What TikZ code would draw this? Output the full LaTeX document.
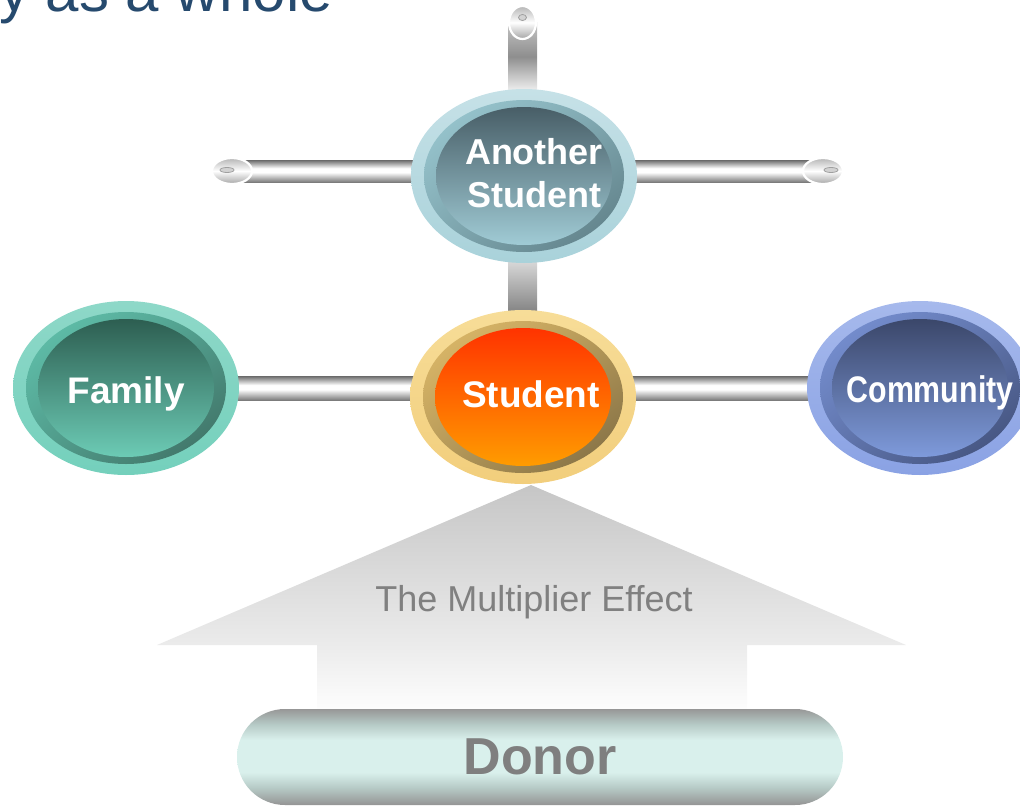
\documentclass[tikz,border=0pt]{standalone}
\usepackage{fontspec}
\setmainfont{Liberation Sans}
\usetikzlibrary{shapes.geometric,shapes.misc,shadings}
\pgfdeclarelayer{background}
\pgfsetlayers{background,main}

\definecolor{titleblue}{HTML}{264A6E}
\definecolor{labelgray}{HTML}{808080}
\definecolor{donorgray}{HTML}{7F7F7F}
% balls
\definecolor{famO}{HTML}{8ED8C8}\definecolor{famOb}{HTML}{74D0BC}
\definecolor{famRA}{HTML}{62C6B0}\definecolor{famRB}{HTML}{3D6B60}
\definecolor{famIT}{HTML}{2D5E51}\definecolor{famIB}{HTML}{6CCBB5}
\definecolor{anoO}{HTML}{C6E1E7}\definecolor{anoOb}{HTML}{A9D2DA}
\definecolor{anoRA}{HTML}{9DCCD5}\definecolor{anoRB}{HTML}{5B7A82}
\definecolor{anoIT}{HTML}{485E67}\definecolor{anoIB}{HTML}{A0CBD5}
\definecolor{stuO}{HTML}{F7DD98}\definecolor{stuOb}{HTML}{F2CE7C}
\definecolor{stuRA}{HTML}{E3BE6B}\definecolor{stuRB}{HTML}{7C6A42}
\definecolor{stuIT}{HTML}{FF3300}\definecolor{stuIB}{HTML}{FF9C00}
\definecolor{comO}{HTML}{A6B9EC}\definecolor{comOb}{HTML}{8AA2E4}
\definecolor{comRA}{HTML}{7B95D9}\definecolor{comRB}{HTML}{3E4C74}
\definecolor{comIT}{HTML}{3B476A}\definecolor{comIB}{HTML}{7E9ADB}
% metal bars
\definecolor{barTop}{HTML}{6A6A6A}\definecolor{barBot}{HTML}{7C7C7C}
\definecolor{vA1}{HTML}{C4C4C4}\definecolor{vA2}{HTML}{8E8E8E}\definecolor{vA3}{HTML}{F0F0F0}
\definecolor{vB1}{HTML}{E2E2E2}\definecolor{vB2}{HTML}{7A7A7A}
% arrow and donor
\definecolor{arT}{HTML}{C6C6C6}\definecolor{arM}{HTML}{EBEBEB}\definecolor{arB}{HTML}{FEFEFE}
\definecolor{dG1}{HTML}{979797}\definecolor{dG2}{HTML}{949494}
\definecolor{dMid}{HTML}{B6CAC6}\definecolor{dCyan}{HTML}{D9F0EC}
\definecolor{capG1}{HTML}{B5B5B5}\definecolor{capG2}{HTML}{A5A5A5}

\pgfdeclareverticalshading{hbarshade}{100bp}{color(0bp)=(barBot); color(25bp)=(barBot); color(47bp)=(white); color(56bp)=(white); color(75bp)=(barTop); color(100bp)=(barTop)}
\pgfdeclareverticalshading{vbarAshade}{100bp}{color(0bp)=(vA3); color(25bp)=(vA3); color(50bp)=(vA2); color(75bp)=(vA1); color(100bp)=(vA1)}
\pgfdeclareverticalshading{vbarBshade}{100bp}{color(0bp)=(vB2); color(25bp)=(vB2); color(75bp)=(vB1); color(100bp)=(vB1)}
\pgfdeclareverticalshading{arrowshade}{100bp}{color(0bp)=(arB); color(25bp)=(arB); color(40bp)=(arM); color(75bp)=(arT); color(100bp)=(arT)}
\pgfdeclareverticalshading{donorshade}{100bp}{color(0bp)=(dG2); color(25bp)=(dG2); color(34bp)=(dMid); color(42bp)=(dCyan); color(59bp)=(dCyan); color(67bp)=(dMid); color(75bp)=(dG1); color(100bp)=(dG1)}
\pgfdeclareverticalshading{capshade}{100bp}{color(0bp)=(capG2); color(25bp)=(capG2); color(50bp)=(white); color(75bp)=(capG1); color(100bp)=(capG1)}

\tikzset{
  ballouter/.style={ellipse, inner sep=0pt, minimum width=226pt, minimum height=174pt},
  balltext/.style={text=white, font=\fontsize{37}{43}\selectfont\bfseries, anchor=base, inner sep=0pt},
  capnode/.style={ellipse, inner sep=0pt, draw=white, line width=2.2pt, shading=capshade},
  capdash/.style={fill=gray!35, draw=gray!75, line width=0.8pt},
}

\newcommand\mkball[4]{%
  \node[ballouter, top color=#4O, bottom color=#4Ob] (#1) at (#2,#3) {};
  \shade[upper left=#4RA, upper right=#4RA!55!#4RB, lower left=#4RA!55!#4RB, lower right=#4RB]
    (#1.center) ellipse [x radius=100pt, y radius=76pt];
  \shade[top color=#4IT, bottom color=#4IB] (#1.center) ellipse [x radius=88pt, y radius=69pt];
}

\begin{document}
\begin{tikzpicture}[x=1pt,y=-1pt]
\useasboundingbox (0,0) rectangle (1020,806);

% title fragment
\node[anchor=base east, inner sep=0pt, text=titleblue, font=\fontsize{60}{70}\selectfont] (title) at (333,11.5) {y as a whole};

% balls
\mkball{ano}{524}{176}{ano}
\mkball{fam}{126}{388}{fam}
\mkball{stu}{523}{397}{stu}
\mkball{com}{920}{388}{com}

\node[balltext, align=center, font=\fontsize{36}{43}\selectfont\bfseries, anchor=center] (anolbl) at (534,173) {Another\\Student};
\node[balltext] (famlbl) at (126,403) {Family};
\node[balltext] (stulbl) at (531,407) {Student};
\node[balltext] (comlbl) at (930,402) {\scalebox{0.82}[1]{Community}};

% bar end caps
\node[capnode, minimum width=27pt, minimum height=33pt] (tcap) at (522.5,22.5) {};
\node[capnode, minimum width=40pt, minimum height=26pt] (lcap) at (232,171) {};
\node[capnode, minimum width=40pt, minimum height=26pt] (rcap) at (823,171) {};
\path[capdash] ([yshift=5pt]tcap.center) ellipse [x radius=4pt, y radius=3pt];
\path[capdash] ([xshift=-5pt,yshift=1pt]lcap.center) ellipse [x radius=7pt, y radius=2.5pt];
\path[capdash] ([xshift=8pt,yshift=1pt]rcap.center) ellipse [x radius=7pt, y radius=2.5pt];

% multiplier arrow text and donor
\node[text=labelgray, font=\fontsize{36}{40}\selectfont, anchor=base, inner sep=0pt] (mult) at (534,611) {The Multiplier Effect};
\node[rounded rectangle, inner sep=0pt, minimum width=606pt, minimum height=96pt, shading=donorshade,
      text=donorgray, font=\fontsize{52}{60}\selectfont\bfseries] (donor) at (540,757) {Donor};

\begin{pgfonlayer}{background}
  % big arrow
  \shade[shading=arrowshade] (531,485) -- (906,645) -- (747,645) -- (747,712) -- (317,712) -- (317,645) -- (157,645) -- cycle;
  % connectors (metal bars)
  \shade[shading=hbarshade] ([yshift=11pt]lcap.center) rectangle ([yshift=-11pt]rcap.center);
  \shade[shading=hbarshade] ([yshift=12pt]fam.center) rectangle ([yshift=-12pt]com.center);
  \shade[shading=vbarAshade] ([xshift=-14.5pt]tcap.center) rectangle ([xshift=14.5pt,yshift=-2pt]tcap.center |- ano.north);
  \shade[shading=vbarBshade] ([xshift=-14.5pt,yshift=8pt]tcap.center |- ano.south) rectangle ([xshift=14.5pt,yshift=-8pt]tcap.center |- stu.north);
\end{pgfonlayer}
\end{tikzpicture}
\end{document}
